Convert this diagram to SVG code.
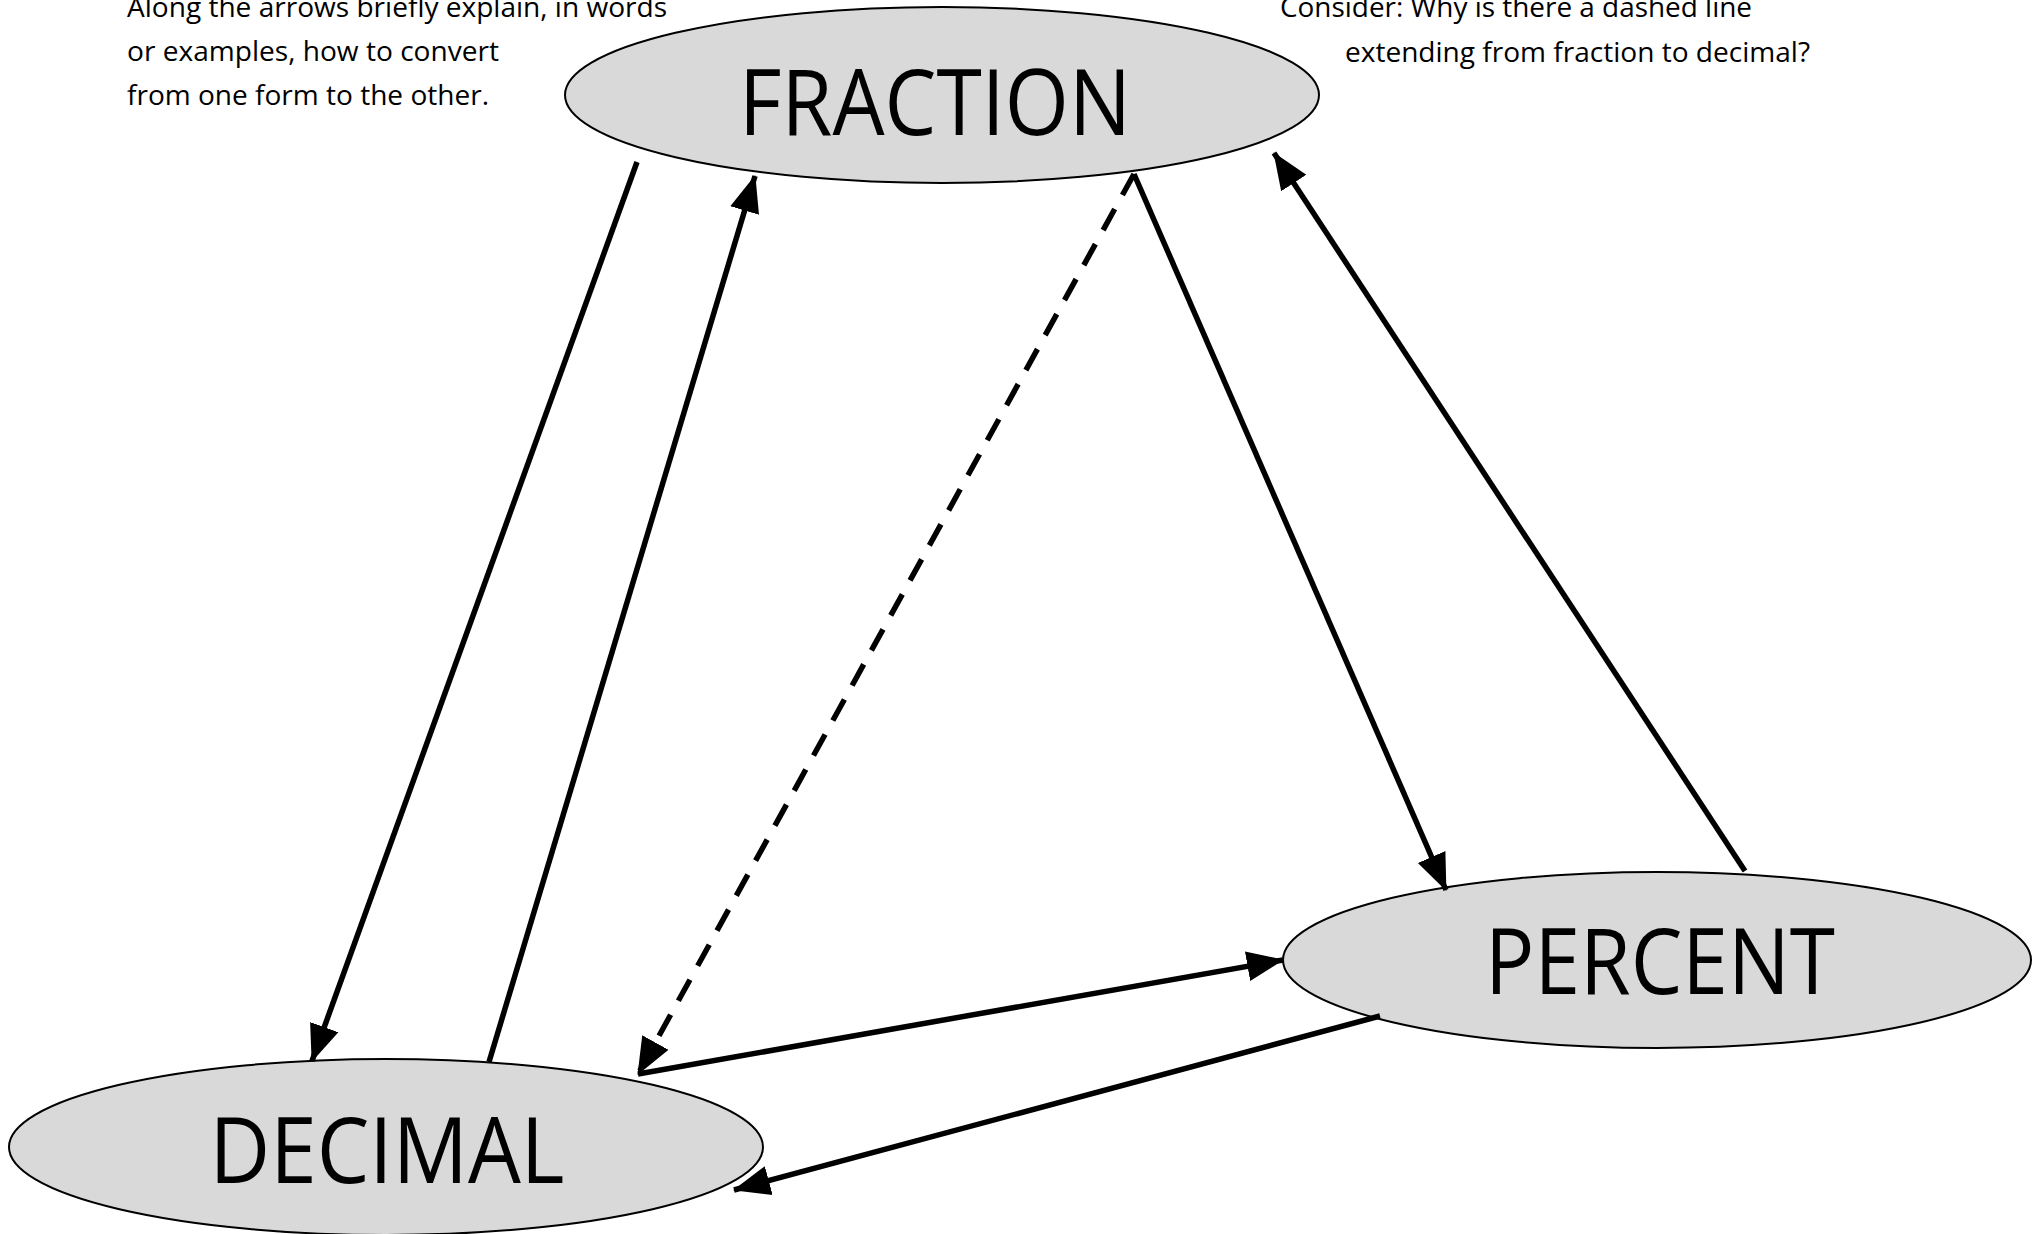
<svg xmlns="http://www.w3.org/2000/svg" width="2032" height="1234" viewBox="0 0 2032 1234">
<style>
.node{fill:#d9d9d9;stroke:#000;stroke-width:2}
.big{font-family:"Open Sans","Noto Sans",sans-serif;font-size:91px;fill:#000;text-anchor:middle}
.note{font-family:"Open Sans","Noto Sans",sans-serif;font-size:27px;fill:#000}
.edge{stroke:#000;stroke-width:5.5;fill:none;marker-end:url(#ah)}
.dash{stroke-dasharray:24 16}
</style>
<defs>
<marker id="ah" markerUnits="userSpaceOnUse" markerWidth="38" markerHeight="32" refX="36" refY="16" orient="auto" viewBox="0 0 38 32">
<path d="M0,1 L37,16 L0,31 Z" fill="#000"/>
</marker>
</defs>
<rect width="2032" height="1234" fill="#fff"/>
<g id="notes">
<text class="note" x="127" y="17" textLength="540" lengthAdjust="spacingAndGlyphs">Along the arrows briefly explain, in words</text>
<text class="note" x="127" y="61" textLength="372" lengthAdjust="spacingAndGlyphs">or examples, how to convert</text>
<text class="note" x="127" y="105" textLength="362" lengthAdjust="spacingAndGlyphs">from one form to the other.</text>
<text class="note" x="1280" y="17" textLength="472" lengthAdjust="spacingAndGlyphs">Consider: Why is there a dashed line</text>
<text class="note" x="1345" y="62" textLength="465" lengthAdjust="spacingAndGlyphs">extending from fraction to decimal?</text>
</g>
<g id="fraction">
<ellipse class="node" cx="942" cy="95" rx="377" ry="88"/>
<text class="big" x="935" y="135" textLength="392" lengthAdjust="spacingAndGlyphs">FRACTION</text>
</g>
<g id="percent">
<ellipse class="node" cx="1657" cy="960" rx="374" ry="88"/>
<text class="big" x="1660" y="994" textLength="350" lengthAdjust="spacingAndGlyphs">PERCENT</text>
</g>
<g id="decimal">
<ellipse class="node" cx="386" cy="1147" rx="377" ry="88"/>
<text class="big" x="387" y="1183" textLength="355" lengthAdjust="spacingAndGlyphs">DECIMAL</text>
</g>
<g id="connectors">
<line class="edge" x1="637" y1="162" x2="312" y2="1061"/>
<line class="edge" x1="489" y1="1062" x2="755" y2="176"/>
<line class="edge dash" x1="1134" y1="174" x2="638" y2="1074"/>
<line class="edge" x1="1134" y1="174" x2="1446" y2="890"/>
<line class="edge" x1="1745" y1="871" x2="1274" y2="153"/>
<line class="edge" x1="638" y1="1074" x2="1283" y2="960"/>
<line class="edge" x1="1380" y1="1016" x2="734" y2="1190"/>
</g>
</svg>
